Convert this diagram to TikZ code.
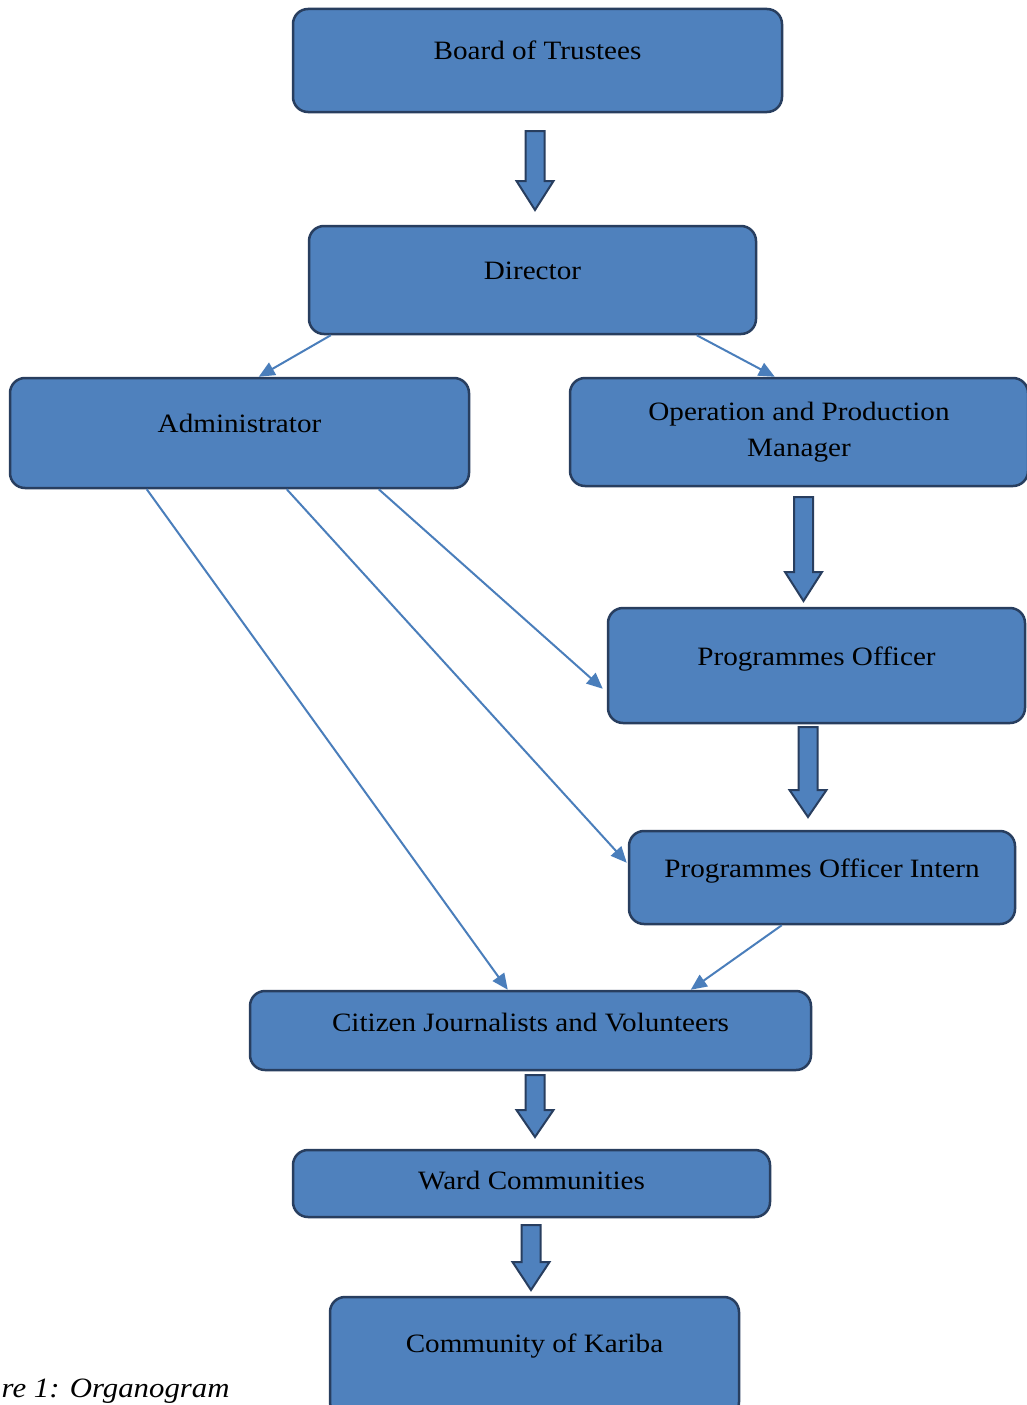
\documentclass[tikz,border=0pt]{standalone}
\usepackage{fontspec}
\setmainfont{Liberation Serif}[FakeStretch=1.1]
\usetikzlibrary{arrows.meta}
\definecolor{boxfill}{HTML}{4F81BD}
\definecolor{boxline}{RGB}{40,62,95}
\definecolor{thinline}{HTML}{4A7EBB}
\newcommand\blkarrow[4]{%
  \draw[blockarr] ({#1-9.5},#2) -- ({#1+9.5},#2) -- ({#1+9.5},#3) -- ({#1+18.5},#3)
    -- (#1,#4) -- ({#1-18.5},#3) -- ({#1-9.5},#3) -- cycle;}
\begin{document}
\begin{tikzpicture}[x=1pt,y=-1pt,
  orgbox/.style={draw=boxline,fill=boxfill,line width=2.5pt,rounded corners=15pt,
    rectangle,inner sep=0pt},
  lblbase/.style={font=\fontsize{26.5}{36}\selectfont,text=black,inner sep=0pt,align=center},
  lbl/.style={lblbase,text height=18pt,text depth=6pt},
  blockarr/.style={draw=boxline,fill=boxfill,line width=2pt,line join=miter},
  thinarr/.style={draw=thinline,line width=2pt,-{Triangle[length=16pt,width=14pt]}}]
\useasboundingbox (0,0) rectangle (1027,1405);
\fill[white] (0,0) rectangle (1027,1405);

\node[orgbox,minimum width=489pt,minimum height=103pt,
  label={[lbl,yshift=7.2pt]center:Board of Trustees}] (board) at (537.5,60.5) {};
\node[orgbox,minimum width=447pt,minimum height=108pt,
  label={[lbl,yshift=6.7pt]center:Director}] (dir) at (532.5,280) {};
\node[orgbox,minimum width=459pt,minimum height=110pt,
  label={[lbl,yshift=6.7pt]center:Administrator}] (admin) at (239.5,433) {};
\node[orgbox,minimum width=458pt,minimum height=108pt,
  label={[lblbase,yshift=-0.4pt]center:Operation and Production\\Manager}] (opm) at (799,432) {};
\node[orgbox,minimum width=417pt,minimum height=115pt,
  label={[lbl,yshift=6.2pt]center:Programmes Officer}] (po) at (816.5,665.5) {};
\node[orgbox,minimum width=386pt,minimum height=93pt,
  label={[lbl,yshift=6.2pt]center:Programmes Officer Intern}] (poi) at (822,877.5) {};
\node[orgbox,minimum width=561pt,minimum height=79pt,
  label={[lbl,yshift=5.2pt]center:Citizen Journalists and Volunteers}] (cjv) at (530.5,1030.5) {};
\node[orgbox,minimum width=477pt,minimum height=67pt,
  label={[lbl,yshift=0.2pt]center:Ward Communities}] (ward) at (531.5,1183.5) {};
\node[orgbox,minimum width=409pt,minimum height=120pt,
  label={[lbl,yshift=10.7pt]center:Community of Kariba}] (kariba) at (534.5,1357) {};

\node[anchor=base west,font=\fontsize{28}{32}\selectfont\itshape,inner sep=0pt] (cap) at (1.5,1397) {re 1: Organogram};

\blkarrow{535}{131}{181}{210}
\blkarrow{803.5}{497}{572}{601}
\blkarrow{808}{727}{790}{817}
\blkarrow{535}{1075}{1110}{1137}
\blkarrow{531}{1225}{1262}{1290}

\draw[thinarr] ([xshift=23pt]dir.south west) -- ([xshift=250pt]admin.north west);
\draw[thinarr] ([xshift=389pt]dir.south west) -- ([xshift=206pt]opm.north west);
\draw[thinarr] ([xshift=370pt]admin.south west) -- ([xshift=-4pt,yshift=-82pt]po.north west);
\draw[thinarr] ([xshift=278pt]admin.south west) -- ([xshift=-1pt,yshift=-33pt]poi.north west);
\draw[thinarr] ([xshift=138pt]admin.south west) -- ([xshift=259pt]cjv.north west);
\draw[thinarr] ([xshift=154pt]poi.south west) -- ([xshift=442pt]cjv.north west);
\end{tikzpicture}
\end{document}
